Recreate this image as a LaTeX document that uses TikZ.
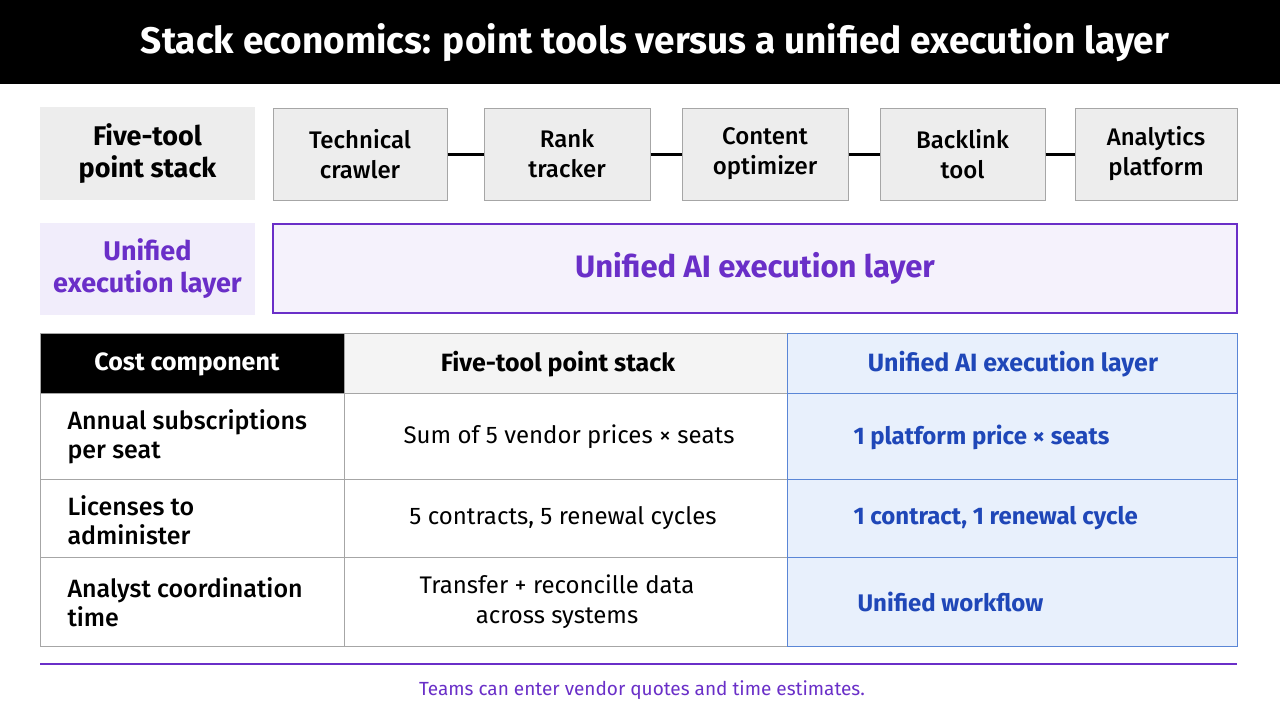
\documentclass[tikz,border=0pt]{standalone}
\usepackage{fontspec}
\setmainfont{Fira Sans}
\newfontfamily\med{Fira Sans Medium}
\definecolor{pur}{HTML}{6A2FC8}
\definecolor{purfill}{HTML}{F1EDFB}
\definecolor{gr}{HTML}{EDEDED}
\definecolor{blu}{HTML}{1F47B8}
\definecolor{blufill}{HTML}{E8F0FC}
\definecolor{blued}{HTML}{5A86D6}
\begin{document}
\begin{tikzpicture}[x=1pt,y=-1pt,
  lab/.style={draw=none,fill=gr,minimum width=215,minimum height=93,align=center,font=\fontsize{27}{32}\selectfont\bfseries},
  tool/.style={draw=gray!70,fill=gr,line width=1,minimum height=92,align=center,font=\fontsize{24}{30}\selectfont\med},
  cell/.style={align=left,anchor=west,font=\fontsize{25}{29}\selectfont\med},
  mid/.style={align=center,font=\fontsize{24}{30}\selectfont},
  bcell/.style={anchor=west,text=blu,font=\fontsize{24}{29}\selectfont\bfseries}]
\useasboundingbox (0,0) rectangle (1280,720);
\fill[white] (0,0) rectangle (1280,720);
\fill[black] (0,0) rectangle (1280,84);
\node[text=white,font=\fontsize{37}{42}\selectfont\bfseries] (title) at (655,43) {Stack economics: point tools versus a unified execution layer};
% row 1
\node[lab] (l1) at (147.5,153.5) {Five-tool\\point stack};
\node[tool,minimum width=174] (t1) at (360,154) {Technical\\crawler};
\node[tool,minimum width=166] (t2) at (567,154) {Rank\\tracker};
\node[tool,minimum width=166] (t3) at (765,154) {Content\\optimizer};
\node[tool,minimum width=165] (t4) at (962.5,154) {Backlink\\tool};
\node[tool,minimum width=162] (t5) at (1156,154) {Analytics\\platform};
\foreach \a/\b in {t1/t2,t2/t3,t3/t4,t4/t5}\draw[line width=3] (\a) -- (\b);
% row 2
\node[lab,fill=purfill,text=pur,minimum height=92] (l2) at (147.5,269) {Unified\\execution layer};
\node[draw=pur,line width=1.2,fill=purfill!70,minimum width=964,minimum height=89,text=pur,font=\fontsize{31}{36}\selectfont\bfseries] (ul) at (755,268.5) {Unified AI execution layer};
% table
\fill[black] (40,333) rectangle (344,393);
\fill[gr!60] (344,333) rectangle (787,393);
\fill[blufill] (787,333) rectangle (1237,646);
\draw[gray!70,line width=1] (40,333) rectangle (1237,646);
\foreach \y in {393,479,557}\draw[gray!70,line width=1] (40,\y) -- (1237,\y);
\draw[gray!70,line width=1] (344,333) -- (344,646);
\draw[blued,line width=1] (787,333) rectangle (1237,646);
\foreach \y in {393,479,557}\draw[blued,line width=1] (787,\y) -- (1237,\y);
\node[text=white,font=\fontsize{25}{29}\selectfont\bfseries] (h1) at (187,364) {Cost component};
\node[font=\fontsize{25}{29}\selectfont\bfseries] (h2) at (558,364) {Five-tool point stack};
\node[text=blu,font=\fontsize{25}{29}\selectfont\bfseries] (h3) at (1013,364) {Unified AI execution layer};
\node[cell] (a1) at (64,437) {Annual subscriptions\\per seat};
\node[cell] (a2) at (64,520) {Licenses to\\administer};
\node[cell] (a3) at (64,602) {Analyst coordination\\time};
\node[mid] (b1) at (569,437) {Sum of 5 vendor prices × seats};
\node[mid] (b2) at (563,518) {5 contracts, 5 renewal cycles};
\node[mid] (b3) at (557,602) {Transfer + reconcille data\\across systems};
\node[bcell] (c1) at (850,437) {1 platform price × seats};
\node[bcell] (c2) at (850,518) {1 contract, 1 renewal cycle};
\node[bcell] (c3) at (854,602) {Unified workflow};
\draw[pur,line width=1.2] (40,664) -- (1237,664);
\node[text=pur,font=\fontsize{19}{23}\selectfont] (fn) at (642,690) {Teams can enter vendor quotes and time estimates.};
\end{tikzpicture}
\end{document}
